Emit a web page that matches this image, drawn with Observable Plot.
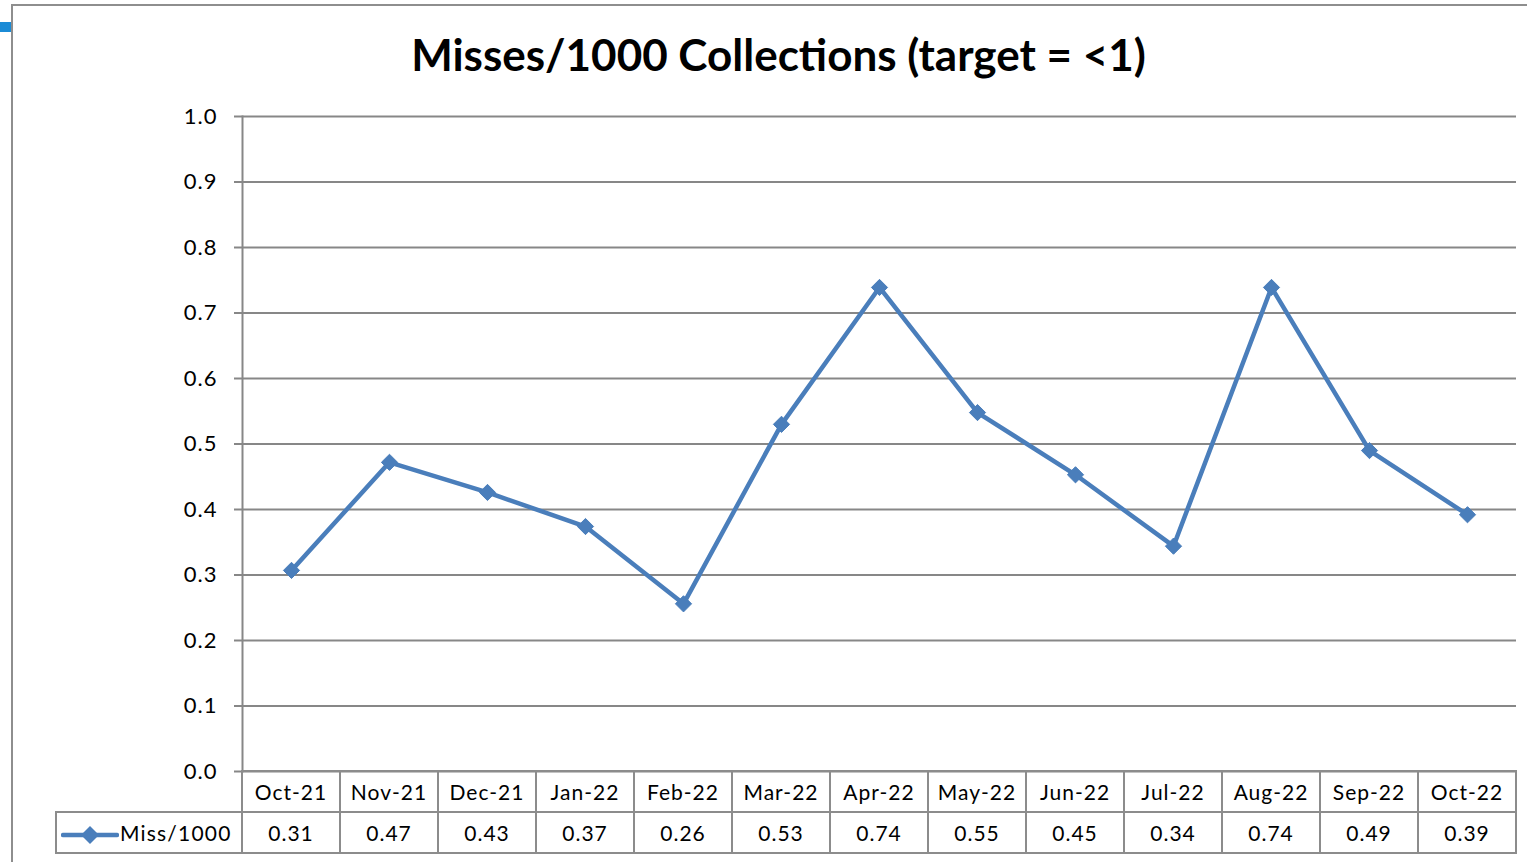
<!DOCTYPE html>
<html>
<head>
<meta charset="utf-8">
<script src="https://cdn.jsdelivr.net/npm/d3@7"></script>
<script src="https://cdn.jsdelivr.net/npm/@observablehq/plot@0.6"></script>
<style>
  html, body { margin: 0; padding: 0; background: #fff; }
  body { font-family: Lato, "Open Sans", sans-serif; }
  #wrap { position: relative; width: 1527px; height: 862px; overflow: hidden; }
  #frame { position: absolute; left: 11px; top: 4px; width: 1530px; height: 870px;
           border-top: 2px solid #8e8e8e; border-left: 2px solid #8e8e8e; }
  #blue { position: absolute; left: 0; top: 22px; width: 11px; height: 10px; background: #1b8bd6; }
  #title { position: absolute; left: 0; top: 27px; width: 1557px; text-align: center;
           font-weight: 700; font-size: 44px; line-height: 54px; color: #000; }
  #chart { position: absolute; left: 0; top: 0; }
  #tbl { position: absolute; left: 55px; top: 770px; border-collapse: collapse; table-layout: fixed;
         font-size: 21px; color: #000; letter-spacing: 1px; }
  #tbl td { border: 2px solid #8c8c8c; height: 39px; padding: 0; text-align: center; white-space: nowrap; }
  #tbl td.blank { border-top: none; border-left: none; }
  #tbl td.leg { text-align: left; padding-left: 4px; letter-spacing: 1.2px; }
  #tbl td.leg svg { vertical-align: middle; }
</style>
</head>
<body>
<div id="wrap">
  <div id="frame"></div>
  <div id="blue"></div>
  <div id="chart"></div>
  <div id="title"></div>
  <table id="tbl"></table>
</div>
<script>
const title = "Misses/1000 Collections (target = <1)";
const seriesName = "Miss/1000";
const months = ["Oct-21","Nov-21","Dec-21","Jan-22","Feb-22","Mar-22","Apr-22","May-22","Jun-22","Jul-22","Aug-22","Sep-22","Oct-22"];
const values = [0.307, 0.472, 0.426, 0.374, 0.256, 0.530, 0.739, 0.548, 0.453, 0.344, 0.739, 0.490, 0.392];
const yTicks = [0, 0.1, 0.2, 0.3, 0.4, 0.5, 0.6, 0.7, 0.8, 0.9, 1.0];

const lineColor = "#4a7ebb";
const gridColor = "#878787";
const data = months.map((m, i) => ({month: m, value: values[i]}));

document.getElementById("title").textContent = title;

const chart = Plot.plot({
  width: 1527,
  height: 795,
  marginLeft: 242,
  marginRight: 11,
  marginTop: 116,
  marginBottom: 24,
  style: {fontFamily: "Lato, 'Open Sans', sans-serif", fontSize: "22px", color: "#000", background: "transparent", letterSpacing: "1px"},
  x: {type: "band", domain: months, padding: 0, axis: null},
  y: {domain: [0, 1]},
  marks: [
    Plot.ruleY(yTicks, {stroke: gridColor, strokeWidth: 2, strokeOpacity: 1}),
    Plot.axisY({ticks: yTicks, tickFormat: d3.format(".1f"), tickSize: 8, tickPadding: 17,
                stroke: gridColor, strokeWidth: 2, strokeOpacity: 1, fontSize: 22, fill: "#000", label: null}),
    Plot.frame({anchor: "left", stroke: gridColor, strokeWidth: 2, strokeOpacity: 1}),
    Plot.line(data, {x: "month", y: "value", stroke: lineColor, strokeWidth: 4.5, strokeLinejoin: "miter"}),
    Plot.dot(data, {x: "month", y: "value", symbol: "diamond2", r: 7.3, fill: lineColor, stroke: lineColor, strokeWidth: 1})
  ]
});
document.getElementById("chart").appendChild(chart);

// data table under the chart (Excel-style)
const tbl = document.getElementById("tbl");
const cg = document.createElement("colgroup");
const c0 = document.createElement("col"); c0.style.width = "186px"; cg.appendChild(c0);
months.forEach(() => { const c = document.createElement("col"); c.style.width = "98px"; cg.appendChild(c); });
tbl.appendChild(cg);

const r1 = document.createElement("tr");
const blank = document.createElement("td"); blank.className = "blank"; r1.appendChild(blank);
months.forEach(m => { const td = document.createElement("td"); td.textContent = m; r1.appendChild(td); });
tbl.appendChild(r1);

const r2 = document.createElement("tr");
const leg = document.createElement("td"); leg.className = "leg";
leg.innerHTML = `<svg width="58" height="20" viewBox="0 0 58 20" style="margin-right:1px">
  <line x1="2" y1="10" x2="56" y2="10" stroke="${lineColor}" stroke-width="4.5" stroke-linecap="round"/>
  <path d="M29 1 L38 10 L29 19 L20 10 Z" fill="${lineColor}"/></svg>${seriesName}`;
r2.appendChild(leg);
values.forEach(v => { const td = document.createElement("td"); td.textContent = v.toFixed(2); r2.appendChild(td); });
tbl.appendChild(r2);
</script>
</body>
</html>
